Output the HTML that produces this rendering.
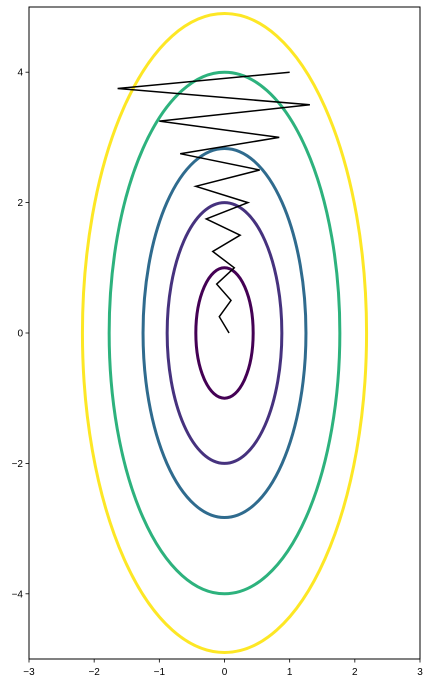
<!DOCTYPE html>
<html><head><meta charset="utf-8"><style>
body{margin:0;background:#fff;}
svg text{font-family:"Liberation Sans",sans-serif;font-size:10px;fill:#000;}
</style></head><body>
<svg id="chart" width="430" height="683" xmlns="http://www.w3.org/2000/svg"></svg>
<script>
const xTicks=[-3,-2,-1,0,1,2,3];
const yTicks=[-4,-2,0,2,4];
const contourB=[1,2,2.83,4,4.9];
const contourA=[0.44,0.88,1.25,1.77,2.18];
const contourColors=["#440154","#46327e","#2f6b8e","#2db27d","#fde725"];
const pathX=[1.0,-1.64,1.31,-1.0,0.84,-0.68,0.54,-0.44,0.36,-0.28,0.24,-0.18,0.15,-0.12,0.10,-0.08,0.07];
const pathY=[4.0,3.75,3.5,3.25,3.0,2.75,2.5,2.25,2.0,1.75,1.5,1.25,1.0,0.75,0.5,0.25,0.0];
const L=29,R=420,T=7,B=659;
const sx=v=>L+(v+3)/6*(R-L);
const sy=v=>B-(v+5)/10*(B-T);
const svg=document.getElementById('chart');
const NS="http://www.w3.org/2000/svg";
function mk(t,a){const e=document.createElementNS(NS,t);for(const k in a)e.setAttribute(k,a[k]);svg.appendChild(e);return e;}
const clip=mk('clipPath',{id:'c'});
const cr=document.createElementNS(NS,'rect');cr.setAttribute('x',L);cr.setAttribute('y',T);cr.setAttribute('width',R-L);cr.setAttribute('height',B-T);clip.appendChild(cr);
contourB.forEach((b,i)=>{
 const e=mk('ellipse',{cx:sx(0),cy:sy(0),rx:sx(contourA[i])-sx(0),ry:sy(0)-sy(b),fill:'none',stroke:contourColors[i],'stroke-width':3,'clip-path':'url(#c)'});
 
 
});
const pl=mk('polyline',{points:pathX.map((x,i)=>sx(x)+','+sy(pathY[i])).join(' '),fill:'none',stroke:'#000','stroke-width':1.5});


const fr=mk('rect',{x:L,y:T,width:R-L,height:B-T,fill:'none',stroke:'#000','stroke-width':1});


const fmt=v=>v<0?'\u2212'+(-v):''+v;
xTicks.forEach(v=>{
 mk('line',{x1:sx(v),x2:sx(v),y1:B,y2:B+3.5,stroke:'#000','stroke-width':0.8});
 const t=mk('text',{x:sx(v),y:B+16,'text-anchor':'middle'});t.textContent=fmt(v);
 
 
});
yTicks.forEach(v=>{
 mk('line',{x1:L-3.5,x2:L,y1:sy(v),y2:sy(v),stroke:'#000','stroke-width':0.8});
 const t=mk('text',{x:L-6,y:sy(v)+3.5,'text-anchor':'end'});t.textContent=fmt(v);
 
 
});
</script>
</body></html>
